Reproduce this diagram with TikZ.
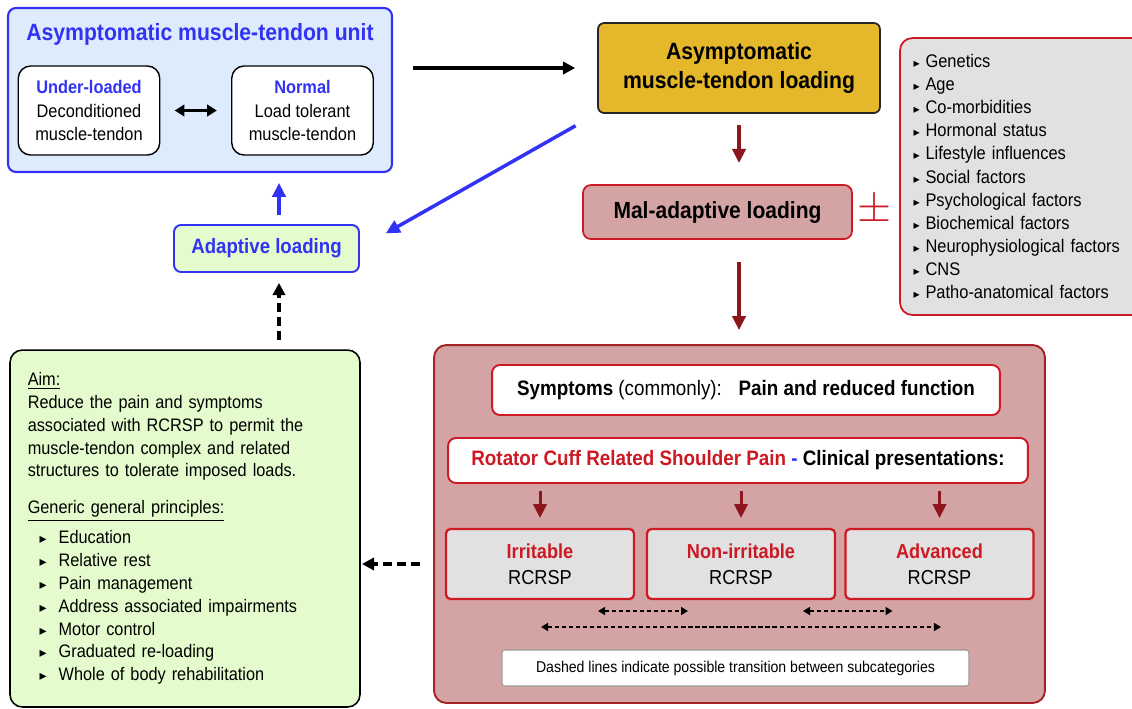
\documentclass[tikz,border=0pt]{standalone}
\usepackage{fontspec}
\setmainfont[FakeStretch=0.9]{Liberation Sans}
\newfontfamily\symfont{DejaVu Sans}
\usetikzlibrary{arrows.meta,calc}

\definecolor{ublue}{RGB}{50,50,245}
\definecolor{skyfill}{RGB}{221,235,253}
\definecolor{gold}{RGB}{228,184,42}
\definecolor{rosefill}{RGB}{212,164,164}
\definecolor{rred}{RGB}{205,25,35}
\definecolor{darkred}{RGB}{140,22,28}
\definecolor{boxred}{RGB}{165,35,40}
\definecolor{greyfill}{RGB}{225,225,225}
\definecolor{limefill}{RGB}{228,252,205}

\newcommand{\gbul}{\makebox[17.6pt][l]{\hspace{6.8pt}{\symfont\fontsize{8}{8}\selectfont ▸}}}
\newcommand{\fbul}{\makebox[6.8pt][l]{{\symfont\fontsize{7}{7}\selectfont ▸}}}

\tikzset{
  base/.style={align=center, inner sep=2pt, outer sep=0mm},
  unitbox/.style={base, rectangle, draw=ublue, line width=1.2pt, rounded corners=4.5pt, fill=skyfill, minimum width=7.68cm, minimum height=3.28cm},
  statebox/.style={base, rectangle, draw=black, line width=0.8pt, rounded corners=7pt, fill=white, minimum width=2.83cm, minimum height=1.78cm, font=\fontsize{10.35}{13.3}\selectfont},
  goldbox/.style={base, rectangle, draw=black!85, line width=1pt, rounded corners=3.5pt, fill=gold, minimum width=5.64cm, minimum height=1.8cm, font=\bfseries\fontsize{13.4}{17}\selectfont},
  malbox/.style={base, rectangle, draw=rred, line width=1pt, rounded corners=4.5pt, fill=rosefill, minimum width=5.38cm, minimum height=1.08cm, font=\bfseries\fontsize{13.3}{16}\selectfont},
  factorbox/.style={base, rectangle, draw=rred, line width=1pt, rounded corners=7pt, fill=greyfill, minimum width=4.9cm, minimum height=5.54cm, inner xsep=7.4pt, text width=124pt, align=left, font=\fontsize{10.4}{13.15}\selectfont},
  bigbox/.style={base, rectangle, draw=boxred, line width=1.1pt, rounded corners=7pt, fill=rosefill, minimum width=12.22cm, minimum height=7.16cm},
  sympbox/.style={base, rectangle, draw=rred, line width=1.1pt, rounded corners=4.5pt, fill=white, minimum width=10.16cm, minimum height=1cm, font=\fontsize{11.9}{14}\selectfont},
  subbox/.style={base, rectangle, draw=rred, line width=1.3pt, rounded corners=2.5pt, fill=greyfill, minimum width=3.76cm, minimum height=1.4cm, font=\fontsize{11.5}{14.7}\selectfont},
  notebox/.style={base, rectangle, draw=black!40, line width=0.6pt, rounded corners=1.5pt, fill=white, minimum width=9.34cm, minimum height=0.72cm, font=\fontsize{8.9}{10}\selectfont},
  aimbox/.style={base, rectangle, draw=black, line width=0.9pt, rounded corners=7pt, fill=limefill, minimum width=7cm, minimum height=7.14cm, inner xsep=9.6pt, text width=179pt, align=left, font=\fontsize{10.3}{13}\selectfont},
  adaptbox/.style={base, rectangle, draw=ublue, line width=1.1pt, rounded corners=4pt, fill=limefill, minimum width=3.7cm, minimum height=0.94cm, text=ublue, font=\bfseries\fontsize{11.8}{14}\selectfont},
  arrow/.style={-{Triangle[length=7pt,width=7pt]}, line width=2pt, black},
  twohead/.style={arrow, {Triangle[length=5.5pt,width=6.5pt]}-{Triangle[length=5.5pt,width=6.5pt]}},
  redarrow/.style={-{Triangle[length=8pt,width=7.5pt]}, line width=2pt, darkred},
  bluearrow/.style={-{Triangle[length=8pt,width=7.5pt]}, line width=2pt, ublue},
  dasharrow/.style={arrow, line width=2.2pt, dash pattern=on 5pt off 3pt},
  twoway/.style={{Triangle[length=4pt,width=4.5pt]}-{Triangle[length=4pt,width=4.5pt]}, line width=1pt, dash pattern=on 2.5pt off 1.5pt}
}

\begin{document}
\begin{tikzpicture}[x=0.02cm, y=-0.02cm]
  \useasboundingbox (0,0) rectangle (1132,708);

  \node[unitbox] (unit) at (200,90) {};
  \node[font=\bfseries\fontsize{13.4}{16}\selectfont, text=ublue] (unittitle) at (200,34) {Asymptomatic muscle-tendon unit};
  \node[statebox] (under) at (89,110.5) {\textcolor{ublue}{\bfseries Under-loaded}\\Deconditioned\\muscle-tendon};
  \node[statebox] (normal) at (302.5,110.5) {\textcolor{ublue}{\bfseries Normal}\\Load tolerant\\muscle-tendon};

  \node[goldbox] (asymload) at (739,68) {Asymptomatic\\muscle-tendon loading};
  \node[malbox] (mal) at (717.5,212) {Mal-adaptive loading};
  \node[text=rred, font=\fontsize{23}{23}\selectfont] (plusminus) at (874,211) {$\pm$};
  \node[factorbox] (factors) at (1022.5,176.5) {\fbul Genetics\\\fbul Age\\\fbul Co-morbidities\\\fbul Hormonal status\\\fbul Lifestyle influences\\\fbul Social factors\\\fbul Psychological factors\\\fbul Biochemical factors\\\fbul Neurophysiological factors\\\fbul CNS\\\fbul Patho-anatomical factors};

  \node[bigbox] (rcbig) at (739.5,524) {};
  \node[sympbox] (symp) at (746,390) {\textbf{Symptoms} (commonly):\hspace{0.8em}\textbf{Pain and reduced function}};
  \node[sympbox, minimum width=11.6cm, minimum height=0.9cm] (rcrsp) at (738,460.5) {\textcolor{rred}{\bfseries Rotator Cuff Related Shoulder Pain} \textcolor{ublue}{\bfseries -} \textbf{Clinical presentations:}};
  \node[subbox] (irr) at (540,564) {\textcolor{rred}{\bfseries Irritable}\\RCRSP};
  \node[subbox] (nonirr) at (741,564) {\textcolor{rred}{\bfseries Non-irritable}\\RCRSP};
  \node[subbox] (adv) at (939.5,564) {\textcolor{rred}{\bfseries Advanced}\\RCRSP};
  \node[notebox] (note) at (735.5,668) {Dashed lines indicate possible transition between subcategories};

  \node[aimbox] (aim) at (185,528.5) {\underline{Aim:}\\Reduce the pain and symptoms\\associated with RCRSP to permit the\\muscle-tendon complex and related\\structures to tolerate imposed loads.\\[8pt]\underline{Generic general principles:}\\[4pt]\gbul Education\\\gbul Relative rest\\\gbul Pain management\\\gbul Address associated impairments\\\gbul Motor control\\\gbul Graduated re-loading\\\gbul Whole of body rehabilitation};
  \node[adaptbox] (adapt) at (266.5,248.5) {Adaptive loading};
  \coordinate (axis) at (279,0);

  \draw[twohead, shorten <=8.5pt, shorten >=8.5pt] (under.east) -- (normal.west);
  \draw[arrow, shorten <=11.9pt, shorten >=13pt] (unit.east |- asymload.west) -- (asymload.west);
  \draw[redarrow, shorten <=6.8pt, shorten >=12.5pt] (asymload.south) -- (asymload.south |- mal.north);
  \draw[redarrow, shorten <=13pt, shorten >=8.5pt] (asymload.south |- mal.south) -- (asymload.south |- rcbig.north);
  \draw[bluearrow, shorten <=14.7pt, shorten >=17.5pt] (asymload.south west) -- (adapt.east);
  \draw[bluearrow, shorten <=5.7pt, shorten >=6.2pt] (adapt.north -| axis) -- (unit.south -| axis);
  \draw[dasharrow, shorten <=5.7pt, shorten >=6.2pt] (aim.north -| axis) -- (adapt.south -| axis);
  \draw[dasharrow, shorten <=7.9pt, shorten >=1.1pt] (rcbig.west |- irr.center) -- (aim.east |- irr.center);
  \foreach \sub in {irr,nonirr,adv}
    \draw[redarrow, line width=1.7pt, shorten <=4.5pt, shorten >=6.2pt] (\sub.north |- rcrsp.south) -- (\sub.north);
  \draw[twoway] ($(irr.south east)+(-36,12)$) -- ($(nonirr.south west)+(41,12)$);
  \draw[twoway] ($(nonirr.south east)+(-32,12)$) -- ($(adv.south west)+(47,12)$);
  \draw[twoway] ($(irr.south)+(1,28)$) -- ($(adv.south)+(1.5,28)$);
\end{tikzpicture}
\end{document}
